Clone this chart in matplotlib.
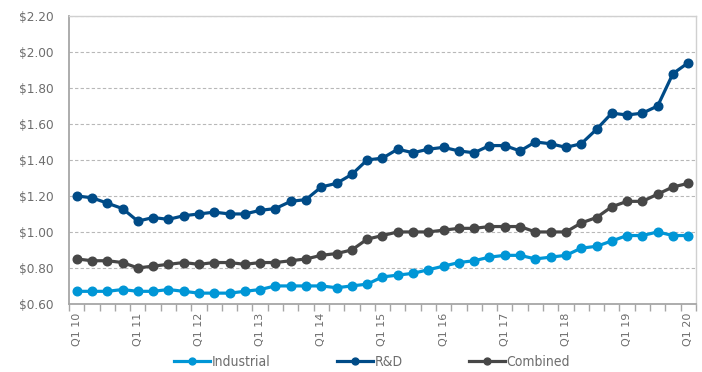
import numpy as np
import matplotlib
matplotlib.use('Agg')
import matplotlib.pyplot as plt
from matplotlib.ticker import FixedLocator, FuncFormatter
from matplotlib.font_manager import FontProperties

# Quarterly values, Q1 2010 .. Q1 2020 (41 quarters)
industrial = [0.67, 0.67, 0.67, 0.68, 0.67, 0.67, 0.68, 0.67, 0.66, 0.66,
              0.66, 0.67, 0.68, 0.70, 0.70, 0.70, 0.70, 0.69, 0.70, 0.71,
              0.75, 0.76, 0.77, 0.79, 0.81, 0.83, 0.84, 0.86, 0.87, 0.87,
              0.85, 0.86, 0.87, 0.91, 0.92, 0.95, 0.98, 0.98, 1.00, 0.98,
              0.98]
rnd = [1.20, 1.19, 1.16, 1.13, 1.06, 1.08, 1.07, 1.09, 1.10, 1.11,
       1.10, 1.10, 1.12, 1.13, 1.17, 1.18, 1.25, 1.27, 1.32, 1.40,
       1.41, 1.46, 1.44, 1.46, 1.47, 1.45, 1.44, 1.48, 1.48, 1.45,
       1.50, 1.49, 1.47, 1.49, 1.57, 1.66, 1.65, 1.66, 1.70, 1.88,
       1.94]
combined = [0.85, 0.84, 0.84, 0.83, 0.80, 0.81, 0.82, 0.83, 0.82, 0.83,
            0.83, 0.82, 0.83, 0.83, 0.84, 0.85, 0.87, 0.88, 0.90, 0.96,
            0.98, 1.00, 1.00, 1.00, 1.01, 1.02, 1.02, 1.03, 1.03, 1.03,
            1.00, 1.00, 1.00, 1.05, 1.08, 1.14, 1.17, 1.17, 1.21, 1.25,
            1.27]
year_labels = ['Q1 10', 'Q1 11', 'Q1 12', 'Q1 13', 'Q1 14', 'Q1 15',
               'Q1 16', 'Q1 17', 'Q1 18', 'Q1 19', 'Q1 20']

x = np.arange(len(rnd))
text_gray = '#6d6d6d'

fig = plt.figure(figsize=(7.02, 3.72), dpi=100)
ax = fig.add_axes([0.0983, 0.183, 0.893, 0.774])

series = [
    ('Industrial', industrial, '#0096d6'),
    ('R&D', rnd, '#004b87'),
    ('Combined', combined, '#474747'),
]
for label, vals, color in series:
    ax.plot(x, vals, color=color, linewidth=2.3, marker='o',
            markersize=6.2, label=label)

ax.set_xlim(-0.5, len(x) - 0.5)
ax.set_ylim(0.6, 2.2)
ax.set_yticks(np.arange(0.6, 2.21, 0.2))
ax.yaxis.set_major_formatter(FuncFormatter(lambda v, p: f'${v:.2f}'))

# Q1 labels every 4 quarters, tick marks on every category boundary
ax.set_xticks(x[::4])
ax.set_xticklabels(year_labels, rotation=90)
ax.xaxis.set_minor_locator(FixedLocator(np.arange(-0.5, len(x), 1)))
ax.tick_params(axis='x', which='major', length=0, pad=6, labelsize=8)
ax.tick_params(axis='x', which='minor', length=5, color='#a6a6a6', width=1)
ax.tick_params(axis='y', length=0, pad=11, labelsize=8.7)
ax.tick_params(labelcolor=text_gray)

ax.grid(axis='y', linestyle=(0, (3, 2)), color='#b8b8b8', linewidth=0.8)
ax.set_axisbelow(True)
for side in ['top', 'right']:
    ax.spines[side].set_color('#d0d0d0')
    ax.spines[side].set_linewidth(1)
for side in ['left', 'bottom']:
    ax.spines[side].set_color('#a6a6a6')
    ax.spines[side].set_linewidth(1.3)

legend_font = FontProperties(family='DejaVu Sans', stretch='condensed', size=10)
fig.legend(loc='center', bbox_to_anchor=(0.53, 0.028), ncol=3,
           frameon=False, prop=legend_font, labelcolor=text_gray,
           columnspacing=4.8, handlelength=2.6, handletextpad=0.1,
           markerscale=0.8)

plt.savefig('out.png', dpi=100)
